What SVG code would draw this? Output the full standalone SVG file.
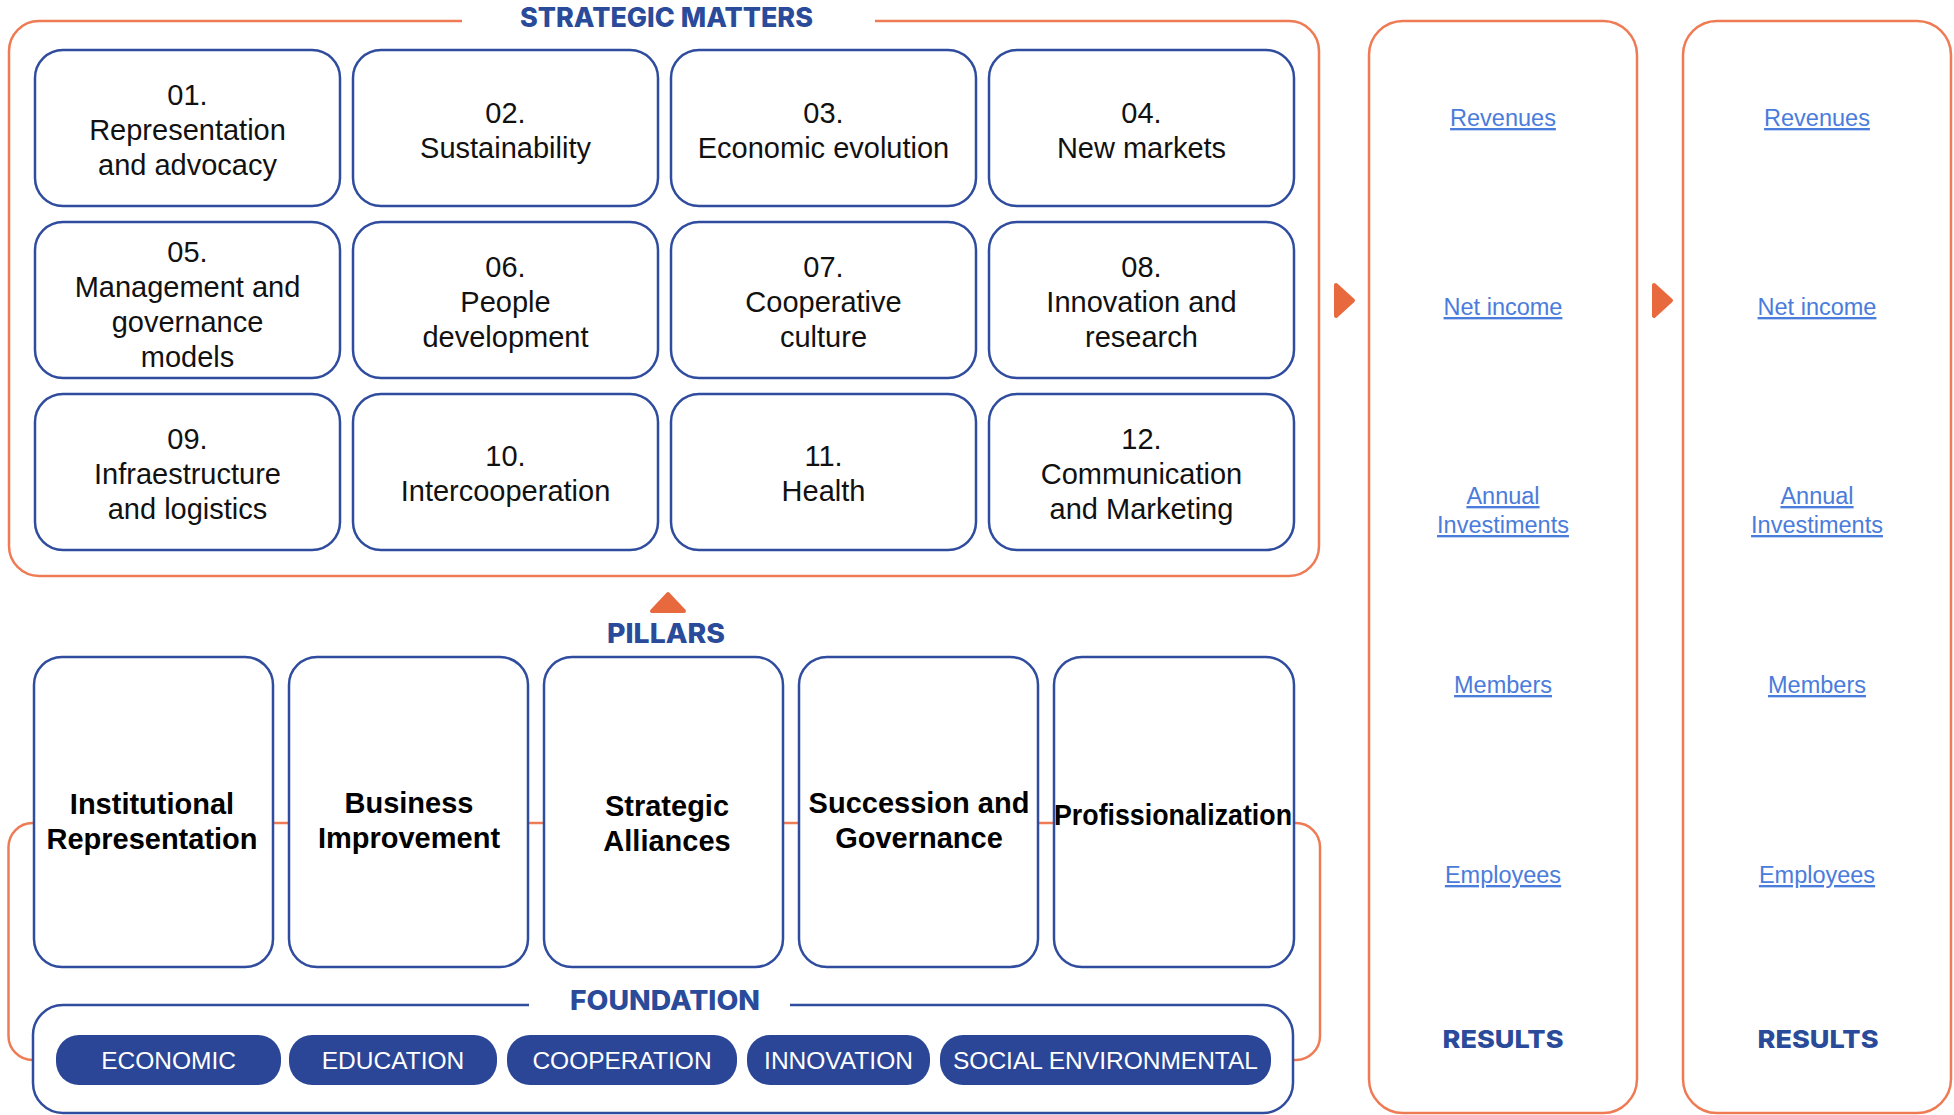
<svg xmlns="http://www.w3.org/2000/svg" width="1954" height="1115" viewBox="0 0 1954 1115">
  <style>
    .frame { fill: none; stroke: #EF7B55; stroke-width: 2.5; }
    .card { fill: #FFFFFF; stroke: #2F4C9E; stroke-width: 2.5; }
    .outline { fill: none; stroke: #2F4C9E; stroke-width: 2.5; }
    .result { fill: #FFFFFF; stroke: #EF7B55; stroke-width: 2.5; }
    .pill { fill: #2B4597; }
    .mark { fill: #E9693F; stroke: #E9693F; stroke-width: 4; stroke-linejoin: round; }
    .title { font-family: Inter, "Liberation Sans", sans-serif; font-weight: 800; fill: #2A4A9A; }
    .item { font-family: "Liberation Sans", Arial, sans-serif; font-size: 29px; fill: #111111; text-anchor: middle; }
    .pillar { font-family: "Liberation Sans", Arial, sans-serif; font-size: 29px; font-weight: bold; fill: #000000; text-anchor: middle; }
    .chip { font-family: "Liberation Sans", Arial, sans-serif; font-size: 24.5px; fill: #FFFFFF; text-anchor: middle; }
    .link { font-family: "Liberation Sans", Arial, sans-serif; font-size: 23.5px; fill: #4A7CDB; text-anchor: middle; text-decoration: underline; }
  </style>

  <rect width="1954" height="1115" fill="#FFFFFF"/>

  <!-- Strategic matters frame, open at the top for its heading -->
  <g id="strategic-matters">
    <path class="frame" d="M462,21 H39 A30,30 0 0 0 9,51 V546 A30,30 0 0 0 39,576 H1289 A30,30 0 0 0 1319,546 V51 A30,30 0 0 0 1289,21 H875"/>
    <text class="title" x="666.5" y="27" font-size="27" text-anchor="middle" textLength="293" lengthAdjust="spacingAndGlyphs">STRATEGIC MATTERS</text>
  </g>

  <!-- Bracket joining pillars and foundation (drawn first so the cards cover it) -->
  <g id="pillar-bracket">
    <rect class="frame" x="8.5" y="823" width="1311.5" height="237" rx="24" ry="24"/>
  </g>

  <!-- Strategic matter cards: 4 columns x 3 rows -->
  <g id="matter-01">
    <rect class="card" x="35" y="50" width="305" height="156" rx="28"/>
    <text class="item"><tspan x="187.5" y="105">01.</tspan><tspan x="187.5" y="140">Representation</tspan><tspan x="187.5" y="175">and advocacy</tspan></text>
  </g>
  <g id="matter-02">
    <rect class="card" x="353" y="50" width="305" height="156" rx="28"/>
    <text class="item"><tspan x="505.5" y="123">02.</tspan><tspan x="505.5" y="158">Sustainability</tspan></text>
  </g>
  <g id="matter-03">
    <rect class="card" x="671" y="50" width="305" height="156" rx="28"/>
    <text class="item"><tspan x="823.5" y="123">03.</tspan><tspan x="823.5" y="158">Economic evolution</tspan></text>
  </g>
  <g id="matter-04">
    <rect class="card" x="989" y="50" width="305" height="156" rx="28"/>
    <text class="item"><tspan x="1141.5" y="123">04.</tspan><tspan x="1141.5" y="158">New markets</tspan></text>
  </g>

  <g id="matter-05">
    <rect class="card" x="35" y="222" width="305" height="156" rx="28"/>
    <text class="item"><tspan x="187.5" y="262">05.</tspan><tspan x="187.5" y="297">Management and</tspan><tspan x="187.5" y="332">governance</tspan><tspan x="187.5" y="367">models</tspan></text>
  </g>
  <g id="matter-06">
    <rect class="card" x="353" y="222" width="305" height="156" rx="28"/>
    <text class="item"><tspan x="505.5" y="277">06.</tspan><tspan x="505.5" y="312">People</tspan><tspan x="505.5" y="347">development</tspan></text>
  </g>
  <g id="matter-07">
    <rect class="card" x="671" y="222" width="305" height="156" rx="28"/>
    <text class="item"><tspan x="823.5" y="277">07.</tspan><tspan x="823.5" y="312">Cooperative</tspan><tspan x="823.5" y="347">culture</tspan></text>
  </g>
  <g id="matter-08">
    <rect class="card" x="989" y="222" width="305" height="156" rx="28"/>
    <text class="item"><tspan x="1141.5" y="277">08.</tspan><tspan x="1141.5" y="312">Innovation and</tspan><tspan x="1141.5" y="347">research</tspan></text>
  </g>

  <g id="matter-09">
    <rect class="card" x="35" y="394" width="305" height="156" rx="28"/>
    <text class="item"><tspan x="187.5" y="449">09.</tspan><tspan x="187.5" y="484">Infraestructure</tspan><tspan x="187.5" y="519">and logistics</tspan></text>
  </g>
  <g id="matter-10">
    <rect class="card" x="353" y="394" width="305" height="156" rx="28"/>
    <text class="item"><tspan x="505.5" y="466">10.</tspan><tspan x="505.5" y="501">Intercooperation</tspan></text>
  </g>
  <g id="matter-11">
    <rect class="card" x="671" y="394" width="305" height="156" rx="28"/>
    <text class="item"><tspan x="823.5" y="466">11.</tspan><tspan x="823.5" y="501">Health</tspan></text>
  </g>
  <g id="matter-12">
    <rect class="card" x="989" y="394" width="305" height="156" rx="28"/>
    <text class="item"><tspan x="1141.5" y="449">12.</tspan><tspan x="1141.5" y="484">Communication</tspan><tspan x="1141.5" y="519">and Marketing</tspan></text>
  </g>

  <!-- Pillars heading -->
  <g id="pillars-heading">
    <text class="title" x="666" y="643" font-size="27" text-anchor="middle" textLength="118" lengthAdjust="spacingAndGlyphs">PILLARS</text>
  </g>

  <!-- Pillar cards -->
  <g id="pillar-1">
    <rect class="card" x="34" y="657" width="239" height="310" rx="28"/>
    <text class="pillar"><tspan x="152" y="814">Institutional</tspan><tspan x="152" y="849">Representation</tspan></text>
  </g>
  <g id="pillar-2">
    <rect class="card" x="289" y="657" width="239" height="310" rx="28"/>
    <text class="pillar"><tspan x="409" y="813">Business</tspan><tspan x="409" y="848">Improvement</tspan></text>
  </g>
  <g id="pillar-3">
    <rect class="card" x="544" y="657" width="239" height="310" rx="28"/>
    <text class="pillar"><tspan x="667" y="816">Strategic</tspan><tspan x="667" y="851">Alliances</tspan></text>
  </g>
  <g id="pillar-4">
    <rect class="card" x="799" y="657" width="239" height="310" rx="28"/>
    <text class="pillar"><tspan x="919" y="813">Succession and</tspan><tspan x="919" y="848">Governance</tspan></text>
  </g>
  <g id="pillar-5">
    <rect class="card" x="1054" y="657" width="240" height="310" rx="28"/>
    <text class="pillar" x="1173" y="825" font-size="27" textLength="238" lengthAdjust="spacingAndGlyphs">Profissionalization</text>
  </g>

  <!-- Foundation frame with its values -->
  <g id="foundation">
    <path d="M529,1005 H63 A30,30 0 0 0 33,1035 V1083 A30,30 0 0 0 63,1113 H1263 A30,30 0 0 0 1293,1083 V1035 A30,30 0 0 0 1263,1005 H790" fill="#FFFFFF" stroke="none"/>
    <path class="outline" d="M529,1005 H63 A30,30 0 0 0 33,1035 V1083 A30,30 0 0 0 63,1113 H1263 A30,30 0 0 0 1293,1083 V1035 A30,30 0 0 0 1263,1005 H790"/>
    <text class="title" x="665" y="1010" font-size="27" text-anchor="middle" textLength="190" lengthAdjust="spacingAndGlyphs">FOUNDATION</text>
  </g>
  <g id="value-economic">
    <rect class="pill" x="56" y="1035" width="225" height="50" rx="23"/>
    <text class="chip" x="168.5" y="1069">ECONOMIC</text>
  </g>
  <g id="value-education">
    <rect class="pill" x="289" y="1035" width="208" height="50" rx="23"/>
    <text class="chip" x="393" y="1069">EDUCATION</text>
  </g>
  <g id="value-cooperation">
    <rect class="pill" x="507" y="1035" width="230" height="50" rx="23"/>
    <text class="chip" x="622" y="1069">COOPERATION</text>
  </g>
  <g id="value-innovation">
    <rect class="pill" x="747" y="1035" width="183" height="50" rx="23"/>
    <text class="chip" x="838.5" y="1069">INNOVATION</text>
  </g>
  <g id="value-social-environmental">
    <rect class="pill" x="940" y="1035" width="331" height="50" rx="23"/>
    <text class="chip" x="1105.5" y="1069">SOCIAL ENVIRONMENTAL</text>
  </g>

  <!-- Results columns -->
  <g id="results-1">
    <rect class="result" x="1369" y="21" width="268" height="1092" rx="34"/>
    <text class="link" x="1503" y="126">Revenues</text>
    <text class="link" x="1503" y="315">Net income</text>
    <text class="link"><tspan x="1503" y="504">Annual</tspan><tspan x="1503" y="533">Investiments</tspan></text>
    <text class="link" x="1503" y="693">Members</text>
    <text class="link" x="1503" y="883">Employees</text>
    <text class="title" x="1503" y="1048" font-size="25" text-anchor="middle" textLength="121" lengthAdjust="spacingAndGlyphs">RESULTS</text>
  </g>
  <g id="results-2">
    <rect class="result" x="1683" y="21" width="268" height="1092" rx="34"/>
    <text class="link" x="1817" y="126">Revenues</text>
    <text class="link" x="1817" y="315">Net income</text>
    <text class="link"><tspan x="1817" y="504">Annual</tspan><tspan x="1817" y="533">Investiments</tspan></text>
    <text class="link" x="1817" y="693">Members</text>
    <text class="link" x="1817" y="883">Employees</text>
    <text class="title" x="1818" y="1048" font-size="25" text-anchor="middle" textLength="121" lengthAdjust="spacingAndGlyphs">RESULTS</text>
  </g>

  <!-- Flow markers between sections -->
  <g id="connectors">
    <path class="mark" d="M652,611 L684,611 L668,594 Z"/>
    <path class="mark" d="M1336,285 L1353,300.5 L1336,316 Z"/>
    <path class="mark" d="M1654,285 L1671,300.5 L1654,316 Z"/>
  </g>
</svg>
